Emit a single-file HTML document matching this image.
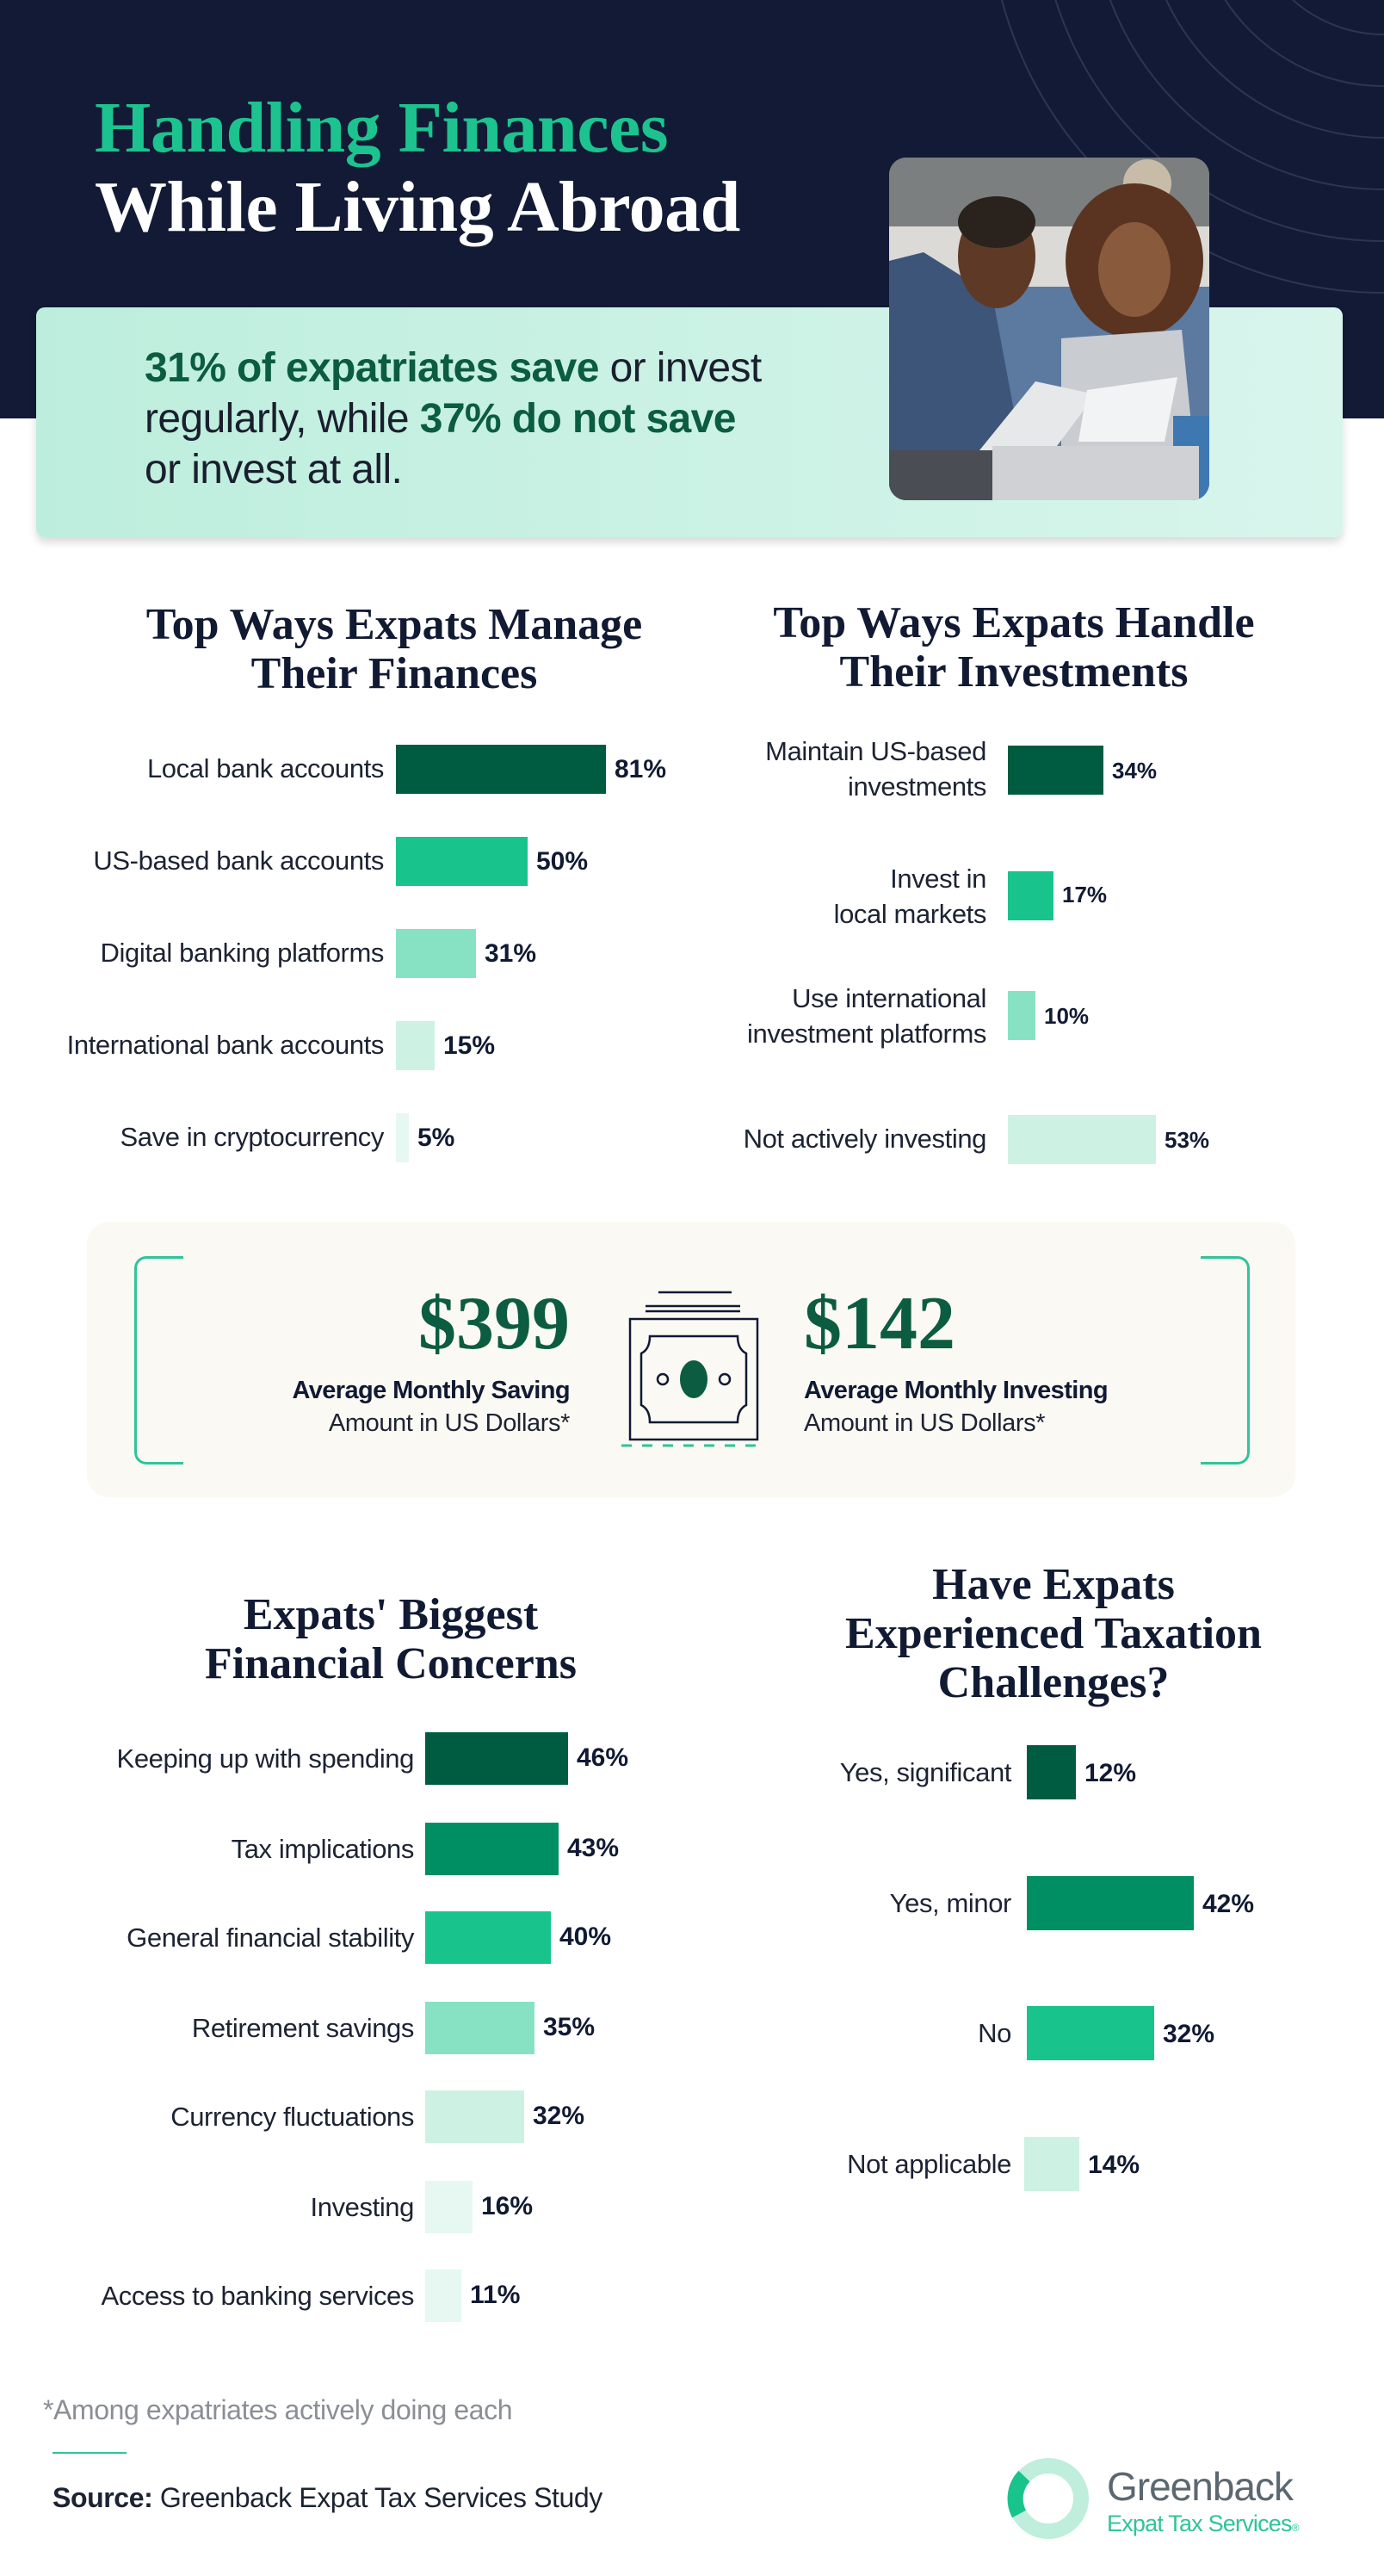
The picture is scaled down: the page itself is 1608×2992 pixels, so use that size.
<!DOCTYPE html>
<html><head><meta charset="utf-8"><style>
*{margin:0;padding:0;box-sizing:border-box}
body{width:1608px;height:2992px;position:relative;background:#fff;font-family:"Liberation Sans",sans-serif;overflow:hidden}
.a{position:absolute}
.serif{font-family:"Liberation Serif",serif;font-weight:bold}
.t{position:absolute;font-family:"Liberation Serif",serif;font-weight:bold;color:#111a33;text-align:center;font-size:52px;line-height:57px;width:700px}
.lab{position:absolute;text-align:right;color:#1c2333;font-size:31px;line-height:41px;letter-spacing:-0.4px;white-space:nowrap}
.bar{position:absolute}
.val{position:absolute;font-weight:bold;color:#111a33;font-size:30px;line-height:40px;white-space:nowrap}
</style></head><body>
<div class="a" style="left:0;top:0;width:1608px;height:486px;background:#121a36"></div>
<svg class="a" style="left:0;top:0" width="1608" height="486">
<g fill="none" stroke="#2c3652" stroke-width="2">
<circle cx="1608" cy="-120" r="100"/><circle cx="1608" cy="-120" r="160"/><circle cx="1608" cy="-120" r="220"/><circle cx="1608" cy="-120" r="280"/><circle cx="1608" cy="-120" r="340"/><circle cx="1608" cy="-120" r="400"/><circle cx="1608" cy="-120" r="460"/>
</g></svg>
<div class="a serif" style="left:110px;top:104px;font-size:84px;line-height:90px;color:#1cc38f;letter-spacing:-0.5px">Handling Finances</div>
<div class="a serif" style="left:110px;top:196px;font-size:84px;line-height:90px;color:#fff;letter-spacing:-0.5px">While Living Abroad</div>
<div class="a" style="left:42px;top:357px;width:1518px;height:267px;border-radius:10px;background:linear-gradient(90deg,#bdeedd,#d8f5ec);box-shadow:0 6px 10px rgba(0,0,0,0.15)"></div>
<div class="a" style="left:168px;top:398px;font-size:48px;line-height:59px;color:#1a1f2e;letter-spacing:-0.6px;width:850px">
<b style="color:#0b5c40">31% of expatriates save</b> or invest<br>regularly, while <b style="color:#0b5c40">37% do not save</b><br>or invest at all.</div>
<svg class="a" style="left:1033px;top:183px" width="372" height="398">
<defs><clipPath id="c"><rect width="372" height="398" rx="20"/></clipPath></defs>
<g clip-path="url(#c)">
<rect width="372" height="398" fill="#8f9294"/>
<rect y="0" width="372" height="80" fill="#7b7f80"/>
<rect y="80" width="372" height="100" fill="#dcdad6"/>
<rect y="150" width="372" height="248" fill="#5c7aa0"/>
<circle cx="300" cy="30" r="28" fill="#c8bca8"/>
<path d="M0 120 L40 110 L120 160 L150 320 L160 398 L0 398Z" fill="#3d5578"/>
<ellipse cx="125" cy="115" rx="45" ry="60" fill="#5e3a26"/>
<ellipse cx="125" cy="75" rx="45" ry="30" fill="#2a221d"/>
<ellipse cx="285" cy="120" rx="80" ry="90" fill="#5a3420"/>
<ellipse cx="285" cy="130" rx="42" ry="55" fill="#8a5a3c"/>
<path d="M200 210 L340 200 L360 398 L200 398Z" fill="#c9cdd1"/>
<path d="M105 340 L170 260 L240 275 L180 355Z" fill="#e6e8ea"/>
<path d="M230 270 L335 255 L320 330 L220 330Z" fill="#f2f3f4"/>
<rect x="0" y="340" width="140" height="58" fill="#4b4d55"/>
<rect x="330" y="300" width="42" height="98" fill="#3f78b0"/>
<rect x="120" y="335" width="240" height="63" fill="#cfd1d4"/>
</g></svg>

<div class="t" style="left:108px;top:697px">Top Ways Expats Manage<br>Their Finances</div>
<div class="t" style="left:828px;top:695px">Top Ways Expats Handle<br>Their Investments</div>

<!-- chart1 -->
<div class="lab" style="right:1162px;top:872px">Local bank accounts</div><div class="bar" style="left:460px;top:865px;width:244px;height:57px;background:#005c40"></div><div class="val" style="left:714px;top:874px">81%</div>
<div class="lab" style="right:1162px;top:979px">US-based bank accounts</div><div class="bar" style="left:460px;top:972px;width:153px;height:57px;background:#18c48c"></div><div class="val" style="left:623px;top:981px">50%</div>
<div class="lab" style="right:1162px;top:1086px">Digital banking platforms</div><div class="bar" style="left:460px;top:1079px;width:93px;height:57px;background:#87e2c4"></div><div class="val" style="left:563px;top:1088px">31%</div>
<div class="lab" style="right:1162px;top:1193px">International bank accounts</div><div class="bar" style="left:460px;top:1186px;width:45px;height:57px;background:#cdf2e4"></div><div class="val" style="left:515px;top:1195px">15%</div>
<div class="lab" style="right:1162px;top:1300px">Save in cryptocurrency</div><div class="bar" style="left:460px;top:1293px;width:15px;height:57px;background:#e6f8f1"></div><div class="val" style="left:485px;top:1302px">5%</div>

<!-- chart2 -->
<div class="lab" style="right:462px;top:852px;line-height:41px">Maintain US-based<br>investments</div><div class="bar" style="left:1171px;top:866px;width:111px;height:57px;background:#005c40"></div><div class="val" style="left:1292px;top:875px;font-size:26px">34%</div>
<div class="lab" style="right:462px;top:1000px;line-height:41px">Invest in<br>local markets</div><div class="bar" style="left:1171px;top:1012px;width:53px;height:57px;background:#18c48c"></div><div class="val" style="left:1234px;top:1019px;font-size:26px">17%</div>
<div class="lab" style="right:462px;top:1139px;line-height:41px">Use international<br>investment platforms</div><div class="bar" style="left:1171px;top:1151px;width:32px;height:57px;background:#87e2c4"></div><div class="val" style="left:1213px;top:1160px;font-size:26px">10%</div>
<div class="lab" style="right:462px;top:1302px">Not actively investing</div><div class="bar" style="left:1171px;top:1295px;width:172px;height:57px;background:#cdf2e4"></div><div class="val" style="left:1353px;top:1304px;font-size:26px">53%</div>

<!-- middle box -->
<div class="a" style="left:101px;top:1419px;width:1404px;height:320px;border-radius:26px;background:#fbf9f3"></div>
<div class="a" style="left:156px;top:1459px;width:57px;height:242px;border:3px solid #2fc49a;border-right:none;border-radius:14px 0 0 14px"></div>
<div class="a" style="left:1395px;top:1459px;width:57px;height:242px;border:3px solid #2fc49a;border-left:none;border-radius:0 14px 14px 0"></div>
<div class="a serif" style="right:946px;top:1488px;font-size:88px;line-height:100px;color:#0b5c40">$399</div>
<div class="a" style="right:946px;top:1597px;font-size:29px;line-height:36px;font-weight:bold;color:#111a33;letter-spacing:-0.6px">Average Monthly Saving</div>
<div class="a" style="right:946px;top:1635px;font-size:29px;line-height:36px;color:#1c2333;letter-spacing:-0.4px">Amount in US Dollars*</div>
<div class="a serif" style="left:934px;top:1488px;font-size:88px;line-height:100px;color:#0b5c40">$142</div>
<div class="a" style="left:934px;top:1597px;font-size:29px;line-height:36px;font-weight:bold;color:#111a33;letter-spacing:-0.6px">Average Monthly Investing</div>
<div class="a" style="left:934px;top:1635px;font-size:29px;line-height:36px;color:#1c2333;letter-spacing:-0.4px">Amount in US Dollars*</div>
<svg class="a" style="left:725px;top:1495px" width="165" height="200">
<g stroke="#111a33" stroke-width="2.5" fill="none">
<line x1="40" y1="6" x2="125" y2="6"/><line x1="25" y1="22" x2="135" y2="22"/><line x1="25" y1="28" x2="135" y2="28"/>
<rect x="7" y="37" width="148" height="140"/>
<path d="M30 57 H132 Q132 72 142 77 V137 Q132 142 132 157 H30 Q30 142 20 137 V77 Q30 72 30 57Z"/>
<circle cx="45" cy="107" r="6"/><circle cx="117" cy="107" r="6"/>
</g>
<ellipse cx="81" cy="107" rx="16" ry="22" fill="#0b5c40"/>
</svg>
<svg class="a" style="left:720px;top:1676px" width="170" height="6"><line x1="2" y1="3" x2="168" y2="3" stroke="#2fc49a" stroke-width="3" stroke-dasharray="12 12"/></svg>

<div class="t" style="left:104px;top:1847px">Expats' Biggest<br>Financial Concerns</div>
<div class="t" style="left:874px;top:1812px">Have Expats<br>Experienced Taxation<br>Challenges?</div>

<!-- chart3 -->
<div class="lab" style="right:1127px;top:2022px">Keeping up with spending</div><div class="bar" style="left:494px;top:2012px;width:166px;height:61px;background:#005c40"></div><div class="val" style="left:670px;top:2022px">46%</div>
<div class="lab" style="right:1127px;top:2127px">Tax implications</div><div class="bar" style="left:494px;top:2117px;width:155px;height:61px;background:#008f62"></div><div class="val" style="left:659px;top:2127px">43%</div>
<div class="lab" style="right:1127px;top:2230px">General financial stability</div><div class="bar" style="left:494px;top:2220px;width:146px;height:61px;background:#18c48c"></div><div class="val" style="left:650px;top:2230px">40%</div>
<div class="lab" style="right:1127px;top:2335px">Retirement savings</div><div class="bar" style="left:494px;top:2325px;width:127px;height:61px;background:#87e2c4"></div><div class="val" style="left:631px;top:2335px">35%</div>
<div class="lab" style="right:1127px;top:2438px">Currency fluctuations</div><div class="bar" style="left:494px;top:2428px;width:115px;height:61px;background:#cdf2e4"></div><div class="val" style="left:619px;top:2438px">32%</div>
<div class="lab" style="right:1127px;top:2543px">Investing</div><div class="bar" style="left:494px;top:2533px;width:55px;height:61px;background:#e6f8f1"></div><div class="val" style="left:559px;top:2543px">16%</div>
<div class="lab" style="right:1127px;top:2646px">Access to banking services</div><div class="bar" style="left:494px;top:2636px;width:42px;height:61px;background:#e6f8f1"></div><div class="val" style="left:546px;top:2646px">11%</div>

<!-- chart4 -->
<div class="lab" style="right:433px;top:2038px">Yes, significant</div><div class="bar" style="left:1193px;top:2027px;width:57px;height:63px;background:#005c40"></div><div class="val" style="left:1260px;top:2040px">12%</div>
<div class="lab" style="right:433px;top:2190px">Yes, minor</div><div class="bar" style="left:1193px;top:2179px;width:194px;height:63px;background:#008f62"></div><div class="val" style="left:1397px;top:2192px">42%</div>
<div class="lab" style="right:433px;top:2341px">No</div><div class="bar" style="left:1193px;top:2330px;width:148px;height:63px;background:#18c48c"></div><div class="val" style="left:1351px;top:2343px">32%</div>
<div class="lab" style="right:433px;top:2493px">Not applicable</div><div class="bar" style="left:1190px;top:2482px;width:64px;height:63px;background:#cdf2e4"></div><div class="val" style="left:1264px;top:2495px">14%</div>

<div class="a" style="left:50px;top:2780px;font-size:32px;line-height:38px;color:#8a8f96;letter-spacing:-0.4px">*Among expatriates actively doing each</div>
<div class="a" style="left:61px;top:2848px;width:86px;height:2px;background:#2fc49a"></div>
<div class="a" style="left:61px;top:2882px;font-size:32px;line-height:38px;color:#1c2333;letter-spacing:-0.4px"><b>Source:</b> Greenback Expat Tax Services Study</div>
<svg class="a" style="left:1168px;top:2852px" width="100" height="100">
<circle cx="50" cy="50" r="38" fill="none" stroke="#bfeedd" stroke-width="18"/>
<path d="M22 24 A38 38 0 0 0 16 68" fill="none" stroke="#18c48c" stroke-width="18"/>
</svg>
<div class="a" style="left:1286px;top:2862px;font-size:46px;line-height:52px;color:#5b6870;letter-spacing:-1px">Greenback</div>
<div class="a" style="left:1286px;top:2914px;font-size:27px;line-height:34px;color:#2fc49a;letter-spacing:-0.8px">Expat Tax Services<span style="font-size:12px">®</span></div>
</body></html>
